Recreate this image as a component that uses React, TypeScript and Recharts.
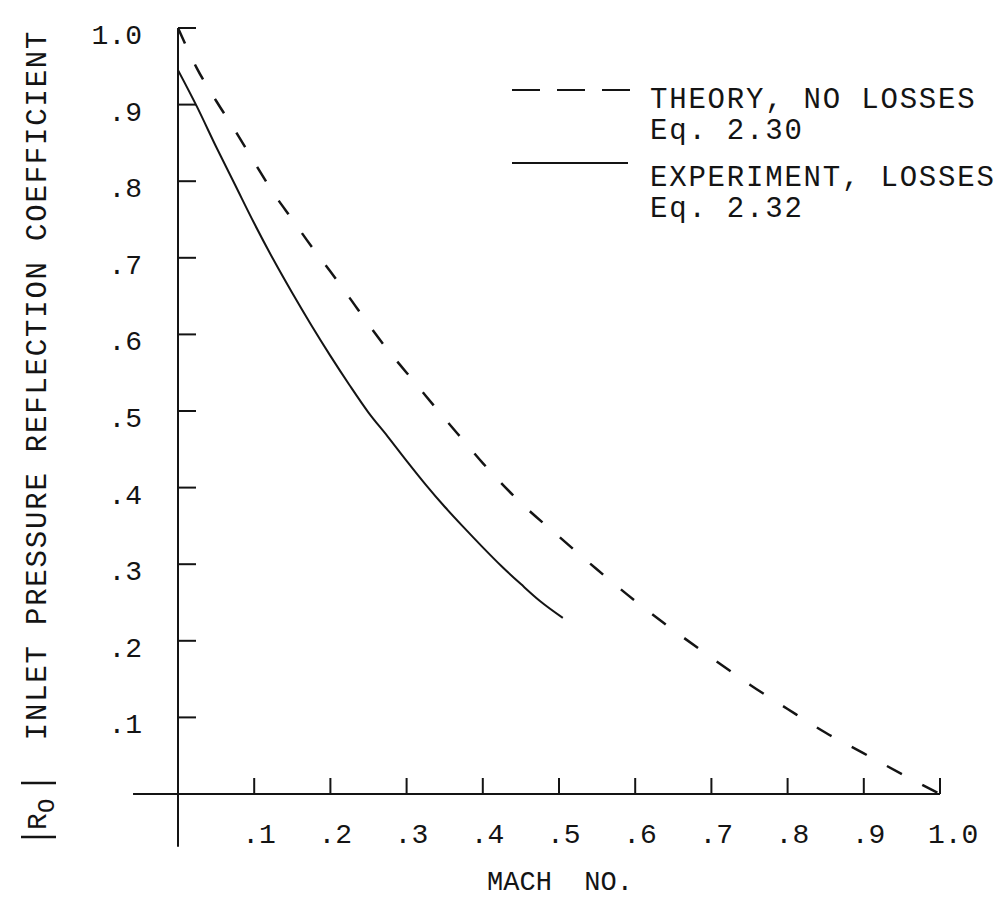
import { LineChart, Line, XAxis, YAxis, ReferenceLine } from 'recharts'

// theory (no losses), Eq. 2.30
const theoryMach = [0, 0.025, 0.05, 0.075, 0.1, 0.125, 0.15, 0.175, 0.2, 0.225, 0.25, 0.275, 0.3, 0.325, 0.35, 0.375, 0.4, 0.45, 0.5, 0.55, 0.6, 0.65, 0.7, 0.75, 0.8, 0.85, 0.9, 0.95, 1.0]
const theoryR = [1.0, 0.947, 0.905, 0.866, 0.825, 0.785, 0.75, 0.715, 0.682, 0.648, 0.613, 0.58, 0.55, 0.52, 0.49, 0.461, 0.432, 0.38, 0.336, 0.293, 0.252, 0.214, 0.178, 0.143, 0.111, 0.08, 0.053, 0.026, 0]

// experiment (losses), Eq. 2.32 - solid curve
const expMach = [0, 0.025, 0.05, 0.075, 0.1, 0.125, 0.15, 0.175, 0.2, 0.225, 0.25, 0.275, 0.3, 0.325, 0.35, 0.375, 0.4, 0.425, 0.45, 0.475, 0.505]
const expR = [0.945, 0.897, 0.845, 0.795, 0.745, 0.698, 0.654, 0.612, 0.572, 0.534, 0.498, 0.467, 0.435, 0.404, 0.375, 0.348, 0.322, 0.297, 0.274, 0.252, 0.23]

const machTicks = [0.1, 0.2, 0.3, 0.4, 0.5, 0.6, 0.7, 0.8, 0.9, 1.0]
const machLabels = ['.1', '.2', '.3', '.4', '.5', '.6', '.7', '.8', '.9', '1.0']
const coefTicks = [0.1, 0.2, 0.3, 0.4, 0.5, 0.6, 0.7, 0.8, 0.9, 1.0]
const coefLabels = ['.1', '.2', '.3', '.4', '.5', '.6', '.7', '.8', '.9', '1.0']

const theoryData = theoryMach.map((m, i) => ({ m, r: theoryR[i] }))
const expData = expMach.map((m, i) => ({ m, r: expR[i] }))

const FONT = '"Liberation Mono", "DejaVu Sans Mono", monospace'
const INK = '#141414'

function MachTick({ x, y, index }: any) {
  return (
    <g>
      <line x1={x} y1={y} x2={x} y2={y - 16} stroke={INK} strokeWidth={2} />
      <text x={x - 12} y={y + 49} textAnchor="start" fontFamily={FONT} fontSize={28} fill={INK}>
        {machLabels[index]}
      </text>
    </g>
  )
}

function CoefTick({ x, y, index }: any) {
  return (
    <g>
      <line x1={x} y1={y} x2={x + 18} y2={y} stroke={INK} strokeWidth={2} />
      <text x={x - 36} y={y + 16} textAnchor="end" fontFamily={FONT} fontSize={28} fill={INK}>
        {coefLabels[index]}
      </text>
    </g>
  )
}

export default function App() {
  return (
    <div style={{ position: 'absolute', left: 0, top: 0, width: 1002, height: 899, background: '#fff' }}>
      <LineChart
        width={1002}
        height={899}
        margin={{ top: 28, right: 62, bottom: 104, left: 177 }}
      >
        <XAxis
          type="number"
          dataKey="m"
          domain={[0, 1]}
          ticks={machTicks}
          interval={0}
          tickSize={0}
          tickMargin={0}
          height={1}
          tick={<MachTick />}
          axisLine={{ stroke: INK, strokeWidth: 2 }}
          allowDataOverflow
        />
        <YAxis
          type="number"
          dataKey="r"
          domain={[0, 1]}
          ticks={coefTicks}
          interval={0}
          tickSize={0}
          tickMargin={0}
          width={1}
          tick={<CoefTick />}
          axisLine={{ stroke: INK, strokeWidth: 2 }}
          allowDataOverflow
        />
        {/* axis lines run past the origin */}
        <ReferenceLine
          segment={[{ x: -0.059, y: 0 }, { x: 0, y: 0 }]}
          stroke={INK}
          strokeWidth={2}
          ifOverflow="visible"
        />
        <ReferenceLine
          segment={[{ x: 0, y: -0.069 }, { x: 0, y: 0 }]}
          stroke={INK}
          strokeWidth={2}
          ifOverflow="visible"
        />
        <Line
          data={theoryData}
          dataKey="r"
          type="monotone"
          stroke={INK}
          strokeWidth={2.5}
          strokeDasharray="17 23"
          dot={false}
          isAnimationActive={false}
        />
        <Line
          data={expData}
          dataKey="r"
          type="monotone"
          stroke={INK}
          strokeWidth={2}
          dot={false}
          isAnimationActive={false}
        />
      </LineChart>

      {/* axis titles and legend */}
      <svg
        width={1002}
        height={899}
        style={{ position: 'absolute', left: 0, top: 0, pointerEvents: 'none' }}
        fontFamily={FONT}
        fill={INK}
      >
        <text x={560} y={890} textAnchor="middle" fontSize={27} xmlSpace="preserve">
          MACH  NO.
        </text>
        <text
          transform="translate(46, 385) rotate(-90)"
          textAnchor="middle"
          fontSize={29}
          letterSpacing={1.8}
        >
          INLET PRESSURE REFLECTION COEFFICIENT
        </text>
        <g transform="translate(46, 810) rotate(-90)">
          <line x1={-27} y1={-25} x2={-27} y2={10} stroke={INK} strokeWidth={2.5} />
          <text x={-20} y={0} fontSize={28}>R</text>
          <text x={-3} y={8} fontSize={24}>O</text>
          <line x1={27} y1={-25} x2={27} y2={10} stroke={INK} strokeWidth={2.5} />
        </g>

        <line x1={512} y1={90} x2={630} y2={90} stroke={INK} strokeWidth={2} strokeDasharray="28 17" />
        <text x={650} y={108} fontSize={29} letterSpacing={1.8}>THEORY, NO LOSSES</text>
        <text x={650} y={139} fontSize={29} letterSpacing={1.8}>Eq. 2.30</text>

        <line x1={512} y1={163} x2={628} y2={163} stroke={INK} strokeWidth={2} />
        <text x={650} y={186} fontSize={29} letterSpacing={1.8}>EXPERIMENT, LOSSES</text>
        <text x={650} y={217} fontSize={29} letterSpacing={1.8}>Eq. 2.32</text>
      </svg>
    </div>
  )
}
